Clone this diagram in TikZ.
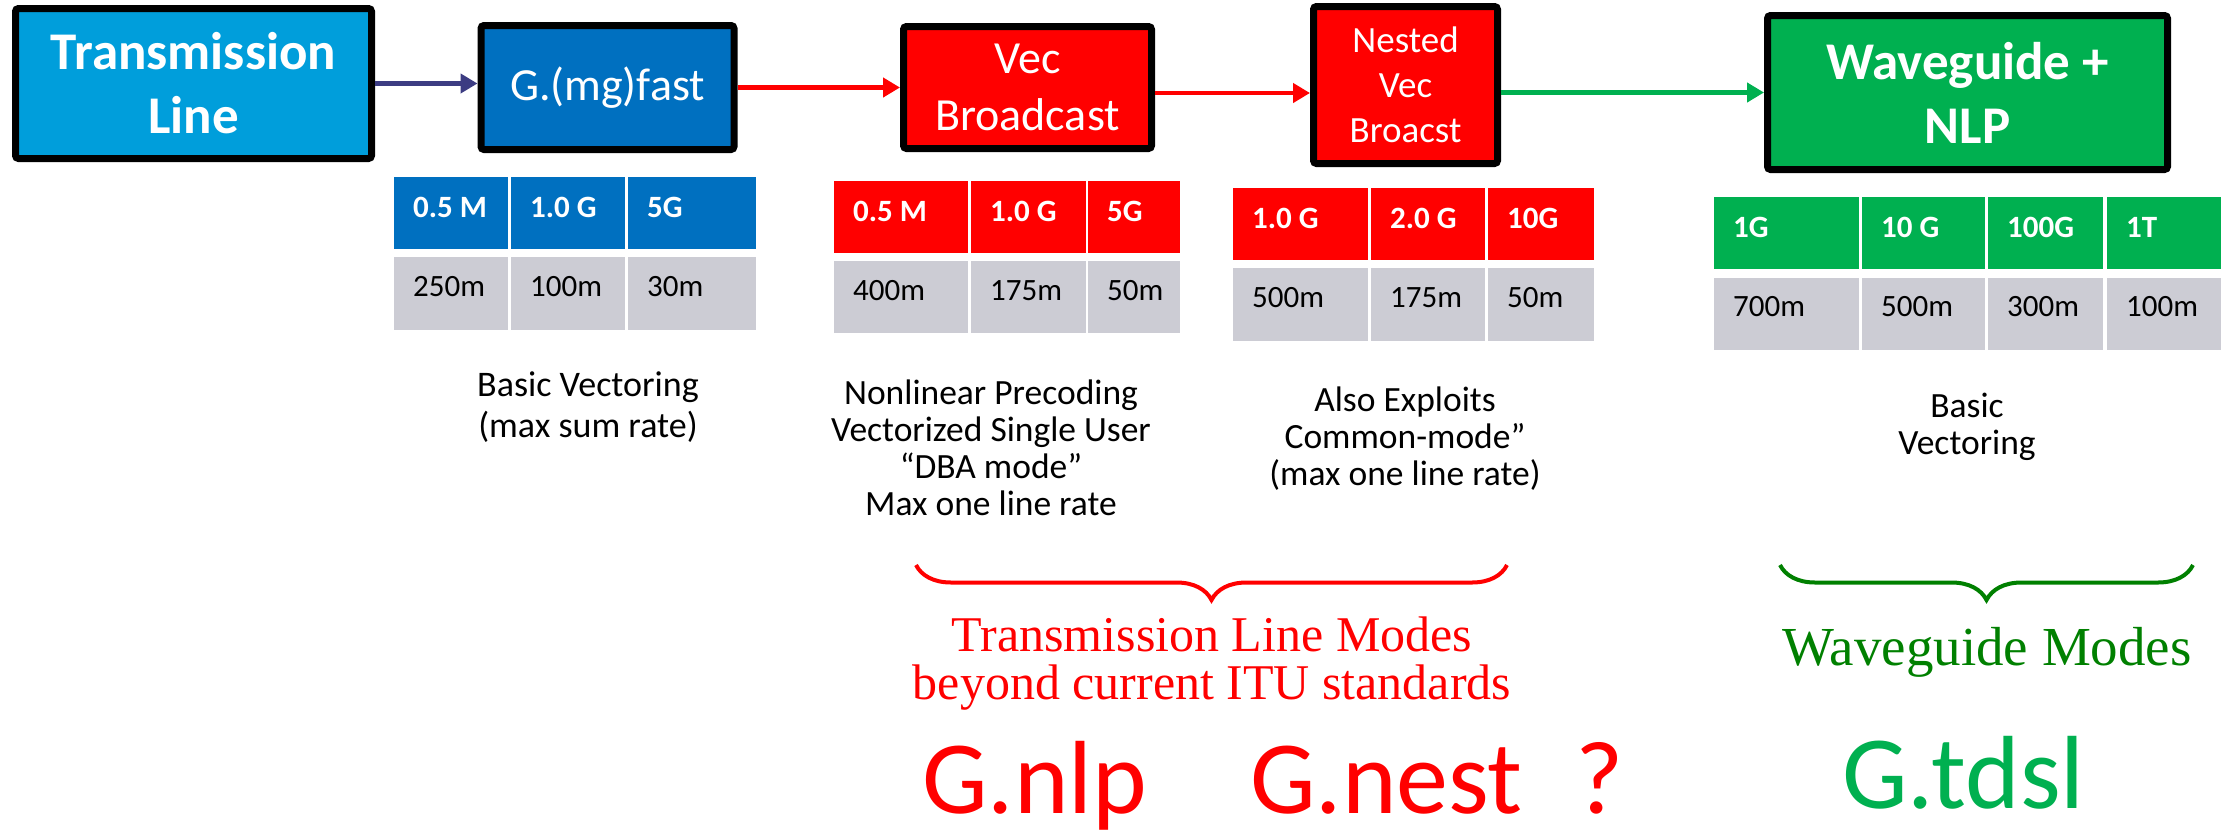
\documentclass[tikz,border=0pt]{standalone}
\usepackage{fontspec}
\setmainfont{Carlito}
\newfontfamily\bracefont{Liberation Serif}
\usetikzlibrary{arrows.meta,decorations.pathreplacing}

\definecolor{lineblue}{RGB}{0,158,219}
\definecolor{fastblue}{RGB}{0,112,192}
\definecolor{vecred}{RGB}{255,0,0}
\definecolor{wgreen}{RGB}{0,176,80}
\definecolor{reachgray}{RGB}{204,204,212}
\definecolor{navyline}{RGB}{60,60,130}
\definecolor{darkgreen}{RGB}{0,128,0}

\tikzset{
  modebox/.style={draw=black, line width=7pt, rounded corners=3pt, text=white,
    align=center, inner sep=0pt},
  flow/.style={line width=4.5pt, -{Triangle[length=17pt,width=19pt]}},
  head/.style={anchor=base west, inner sep=0pt, text=white,
    font=\bfseries\fontsize{31}{37}\selectfont},
  reach/.style={anchor=base west, inner sep=0pt, text=black,
    font=\fontsize{31}{37}\selectfont},
  note/.style={anchor=north, align=center, inner sep=0pt,
    font=\fontsize{35.5}{37}\selectfont},
  modebrace/.style={decorate, decoration={brace, mirror, amplitude=35pt}, line width=4pt},
  stdname/.style={anchor=base west, inner sep=0pt, font=\fontsize{104}{120}\selectfont},
}

\begin{document}
\begin{tikzpicture}[x=1pt,y=-1pt]
    \useasboundingbox (0,0) rectangle (2226,836);

    % Mode boxes along the top
    \node[modebox, fill=lineblue, minimum width=356pt, minimum height=150pt,
      font=\bfseries\fontsize{53}{64}\selectfont] (tl) at (193.5,83.5) {Transmission\\Line};
    \node[modebox, fill=fastblue, minimum width=253pt, minimum height=124pt,
      font=\fontsize{46}{56}\selectfont] (mg) at (607.5,87.5) {G.(mg)fast};
    \node[modebox, fill=vecred, minimum width=248pt, minimum height=122pt,
      font=\fontsize{46}{57}\selectfont] (vec) at (1027.5,87.5) {Vec\\Broadcast};
    \node[modebox, fill=vecred, minimum width=184pt, minimum height=157pt,
      font=\fontsize{37}{45}\selectfont] (nest) at (1405.5,85) {Nested\\Vec\\Broacst};
    \node[modebox, fill=wgreen, minimum width=400pt, minimum height=154pt,
      font=\bfseries\fontsize{53}{64}\selectfont] (wg) at (1967.5,92.5) {Waveguide +\\NLP};

    % Arrows between the modes
    \draw[flow, navyline] (tl.east) -- (tl.east -| mg.west);
    \draw[flow, vecred] (mg.east) -- (mg.east -| vec.west);
    \draw[flow, vecred] ([yshift=-5.5pt]vec.east) -- ([yshift=-5.5pt]vec.east -| nest.west);
    \draw[flow, wgreen] (nest.east |- wg.west) -- (wg.west);

    % Rate / reach tables
    \foreach \xa/\xb/\rate/\dist [count=\i] in {394/508/0.5 M/250m, 511/625/1.0 G/100m, 628/756/5G/30m}{
        \fill[fastblue] (\xa,177) rectangle (\xb,249);
        \fill[reachgray] (\xa,257) rectangle (\xb,330);
        \node[head] (bh\i) at (\xa+19,217) {\rate};
        \node[reach] (bd\i) at (\xa+19,296) {\dist};
    }
    \foreach \xa/\xb/\rate/\dist [count=\i] in {834/968/0.5 M/400m, 971/1086/1.0 G/175m, 1088/1180/5G/50m}{
        \fill[vecred] (\xa,181) rectangle (\xb,253);
        \fill[reachgray] (\xa,261) rectangle (\xb,333);
        \node[head] (vh\i) at (\xa+19,221) {\rate};
        \node[reach] (vd\i) at (\xa+19,300) {\dist};
    }
    \foreach \xa/\xb/\rate/\dist [count=\i] in {1233/1368/1.0 G/500m, 1371/1485/2.0 G/175m, 1488/1594/10G/50m}{
        \fill[vecred] (\xa,188) rectangle (\xb,260);
        \fill[reachgray] (\xa,268) rectangle (\xb,341);
        \node[head] (nh\i) at (\xa+19,228) {\rate};
        \node[reach] (nd\i) at (\xa+19,307) {\dist};
    }
    \foreach \xa/\xb/\rate/\dist [count=\i] in {1714/1859/1G/700m, 1862/1985/10 G/500m, 1988/2103/100G/300m, 2107/2221/1T/100m}{
        \fill[wgreen] (\xa,197) rectangle (\xb,269);
        \fill[reachgray] (\xa,278) rectangle (\xb,350);
        \node[head] (wh\i) at (\xa+19,237) {\rate};
        \node[reach] (wd\i) at (\xa+19,316) {\dist};
    }

    % What each mode does
    \node[note, font=\fontsize{36}{41}\selectfont] (mgnote) at (588,372) {Basic Vectoring\\(max sum rate)};
    \node[note] (vecnote) at (991,380) {Nonlinear Precoding\\Vectorized Single User\\“DBA mode”\\Max one line rate};
    \node[note] (nestnote) at (1405,387) {Also Exploits\\Common-mode”\\(max one line rate)};
    \node[note] (wgnote) at (1967,393) {Basic\\Vectoring};

    % Braces grouping the modes
    \coordinate (tlmL) at (916,565);
    \coordinate (tlmR) at (1507,565);
    \coordinate (wgmL) at (1780,565);
    \coordinate (wgmR) at (2193,565);
    \draw[modebrace, vecred] (tlmL) -- (tlmR);
    \draw[modebrace, darkgreen] (wgmL) -- (wgmR);
    \node[anchor=north, align=center, inner sep=0pt, text=vecred,
      font=\bracefont\fontsize{50}{48}\selectfont] (tlmodes) at (1212,617)
      {Transmission Line Modes\\beyond current ITU standards};
    \node[anchor=base, inner sep=0pt, text=darkgreen,
      font=\bracefont\fontsize{55}{60}\selectfont] (wgmodes) at (1987,665) {Waveguide Modes};

    % Standards names
    \node[stdname, text=vecred] (gnlp) at (922,813) {G.nlp};
    \node[stdname, text=vecred] (gnest) at (1250,813) {G.nest};
    \node[stdname, text=vecred] (gq) at (1575,813) {?};
    \node[stdname, text=wgreen] (gtdsl) at (1842,808) {G.tdsl};
\end{tikzpicture}
\end{document}
